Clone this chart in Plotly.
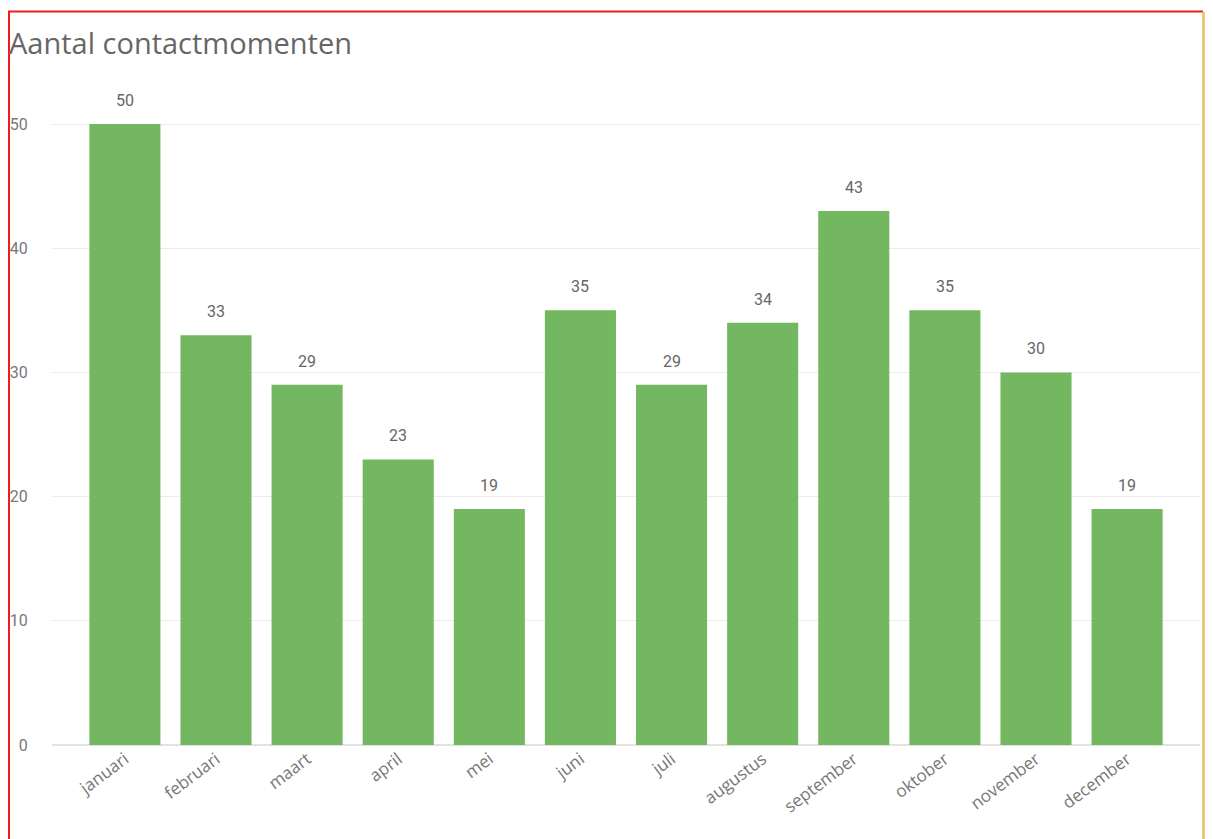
import plotly.graph_objects as go

months = ["januari", "februari", "maart", "april", "mei", "juni", "juli",
          "augustus", "september", "oktober", "november", "december"]
values = [50, 33, 29, 23, 19, 35, 29, 34, 43, 35, 30, 19]
y_ticks = [0, 10, 20, 30, 40, 50]

OFF = 8  # page body margin
W, H = 1205, 831
L, R, T, B = 52 - OFF, 13, 62 - OFF, 94
pw, ph = W - L - R, H - T - B

def px_x(x):
    return (x - OFF - L) / pw

def px_y(y):
    return (H - B - (y - OFF)) / ph

fig = go.Figure()
fig.add_trace(go.Bar(
    x=months, y=values,
    marker=dict(color="#73B761", line=dict(width=0)),
    hoverinfo="x+y",
))

for m, v in zip(months, values):
    fig.add_annotation(x=m, y=v, text=str(v), showarrow=False,
                       yanchor="bottom", yshift=12,
                       font=dict(family="Roboto", size=16, color="#666666"))

fig.add_annotation(xref="paper", yref="paper", x=px_x(7), y=px_y(42),
                   xanchor="left", yanchor="middle", showarrow=False,
                   text="Aantal contactmomenten",
                   font=dict(family="Open Sans", size=29, color="#666666"))

# frame (selection border)
fig.add_shape(type="line", xref="paper", yref="paper",
              x0=px_x(8), x1=px_x(1203), y0=px_y(11.5), y1=px_y(11.5),
              line=dict(color="#ee1c1c", width=2))
fig.add_shape(type="line", xref="paper", yref="paper",
              x0=px_x(9), x1=px_x(9), y0=px_y(11), y1=px_y(845),
              line=dict(color="#ee1c1c", width=2))
fig.add_shape(type="line", xref="paper", yref="paper",
              x0=px_x(1203.5), x1=px_x(1203.5), y0=px_y(12), y1=px_y(845),
              line=dict(color="#e8c060", width=2.5))

fig.update_layout(
    width=W, height=H,
    margin=dict(l=L, r=R, t=T, b=B, autoexpand=False),
    paper_bgcolor="white", plot_bgcolor="white",
    bargap=0.22,
    showlegend=False,
    font=dict(family="Open Sans", color="#777777"),
    xaxis=dict(range=[-0.8, 11.8], tickangle=-37, showgrid=False,
               showline=False, zeroline=False,
               tickfont=dict(family="Open Sans", size=17, color="#777777"),
               ticks=""),
    yaxis=dict(range=[0, 55], tickvals=y_ticks, showgrid=True,
               gridcolor="#ececec", gridwidth=1, zeroline=True,
               zerolinecolor="#e2e2e2", zerolinewidth=1.5,
               ticks="outside", ticklen=20, tickcolor="rgba(0,0,0,0)",
               tickfont=dict(family="Roboto", size=16, color="#777777")),
)

fig.write_html("out.html")
